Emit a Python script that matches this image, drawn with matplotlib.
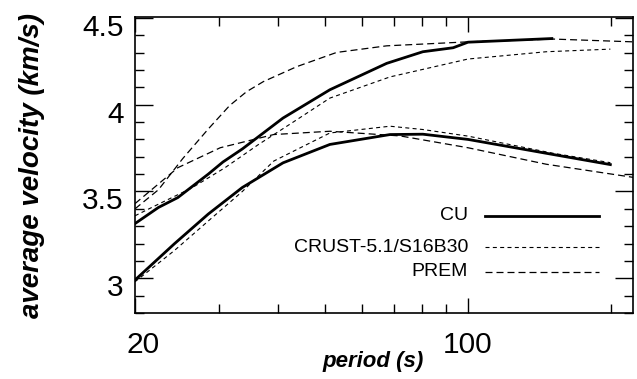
import matplotlib
matplotlib.use("Agg")
import matplotlib.pyplot as plt
import matplotlib.transforms as mtransforms
from matplotlib.ticker import FixedLocator, MultipleLocator, NullFormatter

plt.rcParams['font.family'] = ['Liberation Sans', 'DejaVu Sans']

# upper branch (faster curves)
cu_up_T = [20, 22.4, 24.6, 28.5, 30.6, 33.6, 40.9, 51.3, 67.5, 80.4, 93.1, 100, 150]
cu_up_v = [3.315, 3.408, 3.465, 3.60, 3.67, 3.745, 3.923, 4.086, 4.238, 4.305, 4.328, 4.36, 4.381]

crust_up_T = [20, 22.4, 26.3, 30.9, 36.3, 42.7, 51.3, 68.6, 100, 146, 199]
crust_up_v = [3.36, 3.427, 3.52, 3.637, 3.77, 3.895, 4.038, 4.16, 4.263, 4.305, 4.32]

prem_up_T = [20, 22.4, 25.2, 28.5, 31.6, 34.3, 37.2, 43.7, 53.0, 67.5, 100, 151, 222]
prem_up_v = [3.40, 3.51, 3.69, 3.86, 3.995, 4.075, 4.133, 4.219, 4.301, 4.339, 4.362, 4.378, 4.362]

# lower branch (slower curves)
cu_lo_T = [20, 24.2, 28.5, 33.6, 40.9, 51.3, 68.6, 80.4, 100, 151, 199]
cu_lo_v = [2.99, 3.199, 3.37, 3.523, 3.665, 3.771, 3.828, 3.83, 3.80, 3.713, 3.655]

crust_lo_T = [20, 24.2, 28.5, 33.6, 39.1, 51.3, 68.6, 80.4, 100, 151, 199]
crust_lo_v = [2.98, 3.16, 3.33, 3.50, 3.675, 3.837, 3.876, 3.857, 3.819, 3.72, 3.666]

prem_lo_T = [20, 24.6, 30.2, 39.1, 51.3, 72.1, 100, 146, 224]
prem_lo_v = [3.43, 3.637, 3.752, 3.828, 3.847, 3.82, 3.752, 3.657, 3.58]

legend_labels = ['CU', 'CRUST-5.1/S16B30', 'PREM']

x_major = [20, 100]
x_major_labels = ['20', '100']
x_minor = [30, 40, 50, 60, 70, 80, 90, 200]
y_major = [3, 3.5, 4, 4.5]
y_major_labels = ['3', '3.5', '4', '4.5']

# line styles: CU thick solid, CRUST fine short dash, PREM longer dash
styles = {
    'CU': dict(color='black', lw=2.0, ls='-'),
    'CRUST-5.1/S16B30': dict(color='black', lw=0.8, ls=(0, (3.6, 3.0))),
    'PREM': dict(color='black', lw=0.9, ls=(0, (5.6, 3.2))),
}

fig = plt.figure(figsize=(6.37, 3.79), dpi=100)
ax = fig.add_axes([0.2119, 0.1741, 0.9937 - 0.2119, 0.9551 - 0.1741])

ax.plot(prem_up_T, prem_up_v, **styles['PREM'])
ax.plot(prem_lo_T, prem_lo_v, **styles['PREM'])
ax.plot(crust_up_T, crust_up_v, **styles['CRUST-5.1/S16B30'])
ax.plot(crust_lo_T, crust_lo_v, **styles['CRUST-5.1/S16B30'])
ax.plot(cu_up_T, cu_up_v, **styles['CU'])
ax.plot(cu_lo_T, cu_lo_v, **styles['CU'])

ax.set_xscale('log')
ax.set_xlim(20, 222)
ax.set_ylim(2.8, 4.505)

ax.xaxis.set_major_locator(FixedLocator(x_major))
ax.set_xticklabels(x_major_labels)
ax.xaxis.set_minor_locator(FixedLocator(x_minor))
ax.xaxis.set_minor_formatter(NullFormatter())
ax.set_yticks(y_major)
ax.set_yticklabels(y_major_labels)
ax.yaxis.set_minor_locator(MultipleLocator(0.1))

ax.tick_params(which='both', direction='in', top=True, right=True, width=1.0)
ax.tick_params(axis='y', which='major', length=13, pad=8, labelsize=21.5)
ax.tick_params(axis='x', which='major', length=11, pad=13, labelsize=21.5)
ax.tick_params(which='minor', length=6.5)
for sp in ax.spines.values():
    sp.set_linewidth(1.2)

# y tick labels sit slightly below their ticks in the original, "20" a bit right
offset = mtransforms.ScaledTranslation(0, -5 / 72, fig.dpi_scale_trans)
for lab in ax.yaxis.get_majorticklabels():
    lab.set_transform(lab.get_transform() + offset)
first = ax.xaxis.get_majorticklabels()[0]
first.set_transform(first.get_transform() + mtransforms.ScaledTranslation(6 / 72, 0, fig.dpi_scale_trans))

fig.text(32 / 637, 1 - 166 / 379, 'average velocity (km/s)', rotation=90,
         ha='center', va='center', fontsize=20, fontweight='bold', fontstyle='italic')
fig.text(373 / 637, 1 - 361 / 379, 'period (s)', ha='center', va='center',
         fontsize=16, fontweight='bold', fontstyle='italic')

# legend drawn by hand so the labels are right aligned
rows = [0.328, 0.223, 0.139]
for lab, yy in zip(legend_labels, rows):
    ax.text(0.669, yy, lab, transform=ax.transAxes, ha='right', va='center', fontsize=14)
    ax.plot([0.703, 0.932], [yy, yy], transform=ax.transAxes, **styles[lab])

fig.savefig('out.png', dpi=100)
